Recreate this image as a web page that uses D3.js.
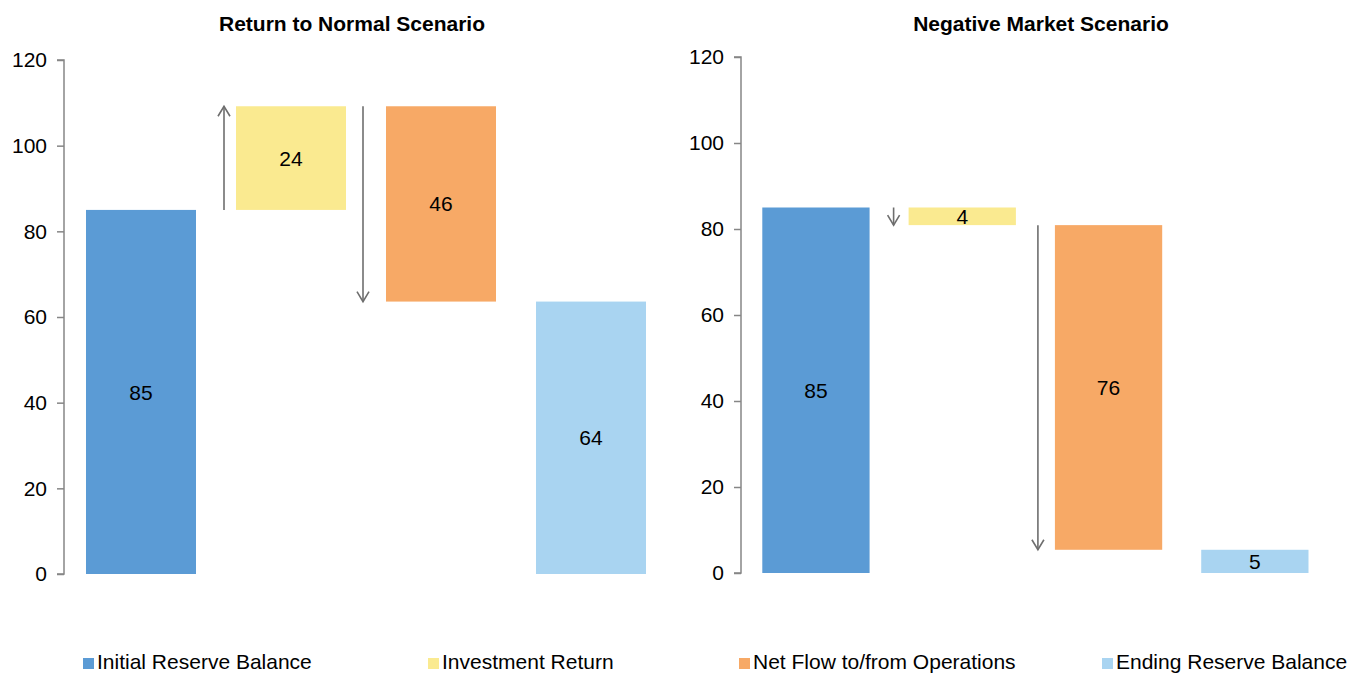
<!DOCTYPE html>
<html>
<head>
<meta charset="utf-8">
<script src="https://cdn.jsdelivr.net/npm/d3@7/dist/d3.min.js"></script>
<style>
  html, body { margin: 0; padding: 0; background: #fff; }
  svg { display: block; font-family: "Liberation Sans", Arial, sans-serif; }
</style>
</head>
<body>
<svg id="chart" width="1351" height="673"></svg>
<script>
// Waterfall steps shared by both scenarios
const categories = [
  "Initial Reserve Balance",
  "Investment Return",
  "Net Flow to/from Operations",
  "Ending Reserve Balance"
];
const scenarioTitles = ["Return to Normal Scenario", "Negative Market Scenario"];
// first and last entries are balances, middle entries are changes
const normalValues = [85.0, 24.2, -45.6, 63.6];
const negativeValues = [85.0, -4.1, -75.5, 5.4];
const tickValues = [0, 20, 40, 60, 80, 100, 120];

const colors = ["#5B9BD5", "#FAEA90", "#F7A966", "#A9D4F1"];

const svg = d3.select("#chart");

// panel geometry
const panels = [
  { title: scenarioTitles[0], values: normalValues, axisX: 64, yRange: [574, 60],
    xRange: [66, 666], titleX: 352, arrowInset: [12, 23] },
  { title: scenarioTitles[1], values: negativeValues, axisX: 741, yRange: [573, 57],
    xRange: [742.8, 1328], titleX: 1041, arrowInset: [15, 17] }
];

panels.forEach(p => {
  const g = svg.append("g");

  const y = d3.scaleLinear().domain([0, 120]).range(p.yRange);
  const x = d3.scaleBand().domain(categories).range(p.xRange)
    .paddingInner(0.2667).paddingOuter(0.1333);

  // running totals -> bar extents
  let running = 0;
  const bars = p.values.map((v, i) => {
    let lo, hi, from, to;
    if (i === 0 || i === p.values.length - 1) {
      lo = 0; hi = v; from = 0; to = v; running = v;
    } else {
      from = running; to = running + v; running = to;
      lo = Math.min(from, to); hi = Math.max(from, to);
    }
    return { cat: categories[i], value: v, lo, hi, from, to, i };
  });

  // title
  g.append("text")
    .attr("x", p.titleX).attr("y", 31)
    .attr("text-anchor", "middle")
    .attr("font-size", 21).attr("font-weight", "bold")
    .attr("fill", "#000")
    .text(p.title);

  // y axis
  const axis = g.append("g")
    .attr("transform", `translate(${p.axisX},0)`)
    .call(d3.axisLeft(y).tickValues(tickValues).tickSize(7).tickPadding(10)
      .tickFormat(d3.format("d")));
  axis.select(".domain").attr("stroke", "#868686").attr("stroke-width", 1.5)
    .attr("d", `M-7,${y(120)}H0V${y(0)}H-7`);
  axis.selectAll(".tick line").attr("stroke", "#868686").attr("stroke-width", 1.5);
  axis.selectAll(".tick text").attr("font-size", 21).attr("fill", "#000")
    .attr("font-family", "Liberation Sans, Arial, sans-serif");

  // bars
  g.selectAll("rect.bar").data(bars).join("rect")
    .attr("class", "bar")
    .attr("x", d => x(d.cat))
    .attr("width", x.bandwidth())
    .attr("y", d => y(d.hi))
    .attr("height", d => y(d.lo) - y(d.hi))
    .attr("fill", (d, i) => colors[i]);

  // value labels
  g.selectAll("text.val").data(bars).join("text")
    .attr("class", "val")
    .attr("x", d => x(d.cat) + x.bandwidth() / 2)
    .attr("y", d => (y(d.lo) + y(d.hi)) / 2)
    .attr("dy", "0.36em")
    .attr("text-anchor", "middle")
    .attr("font-size", 21).attr("fill", "#000")
    .text(d => d3.format(".0f")(Math.abs(d.value)));

  // direction arrows for the change steps
  const steps = bars.filter(d => d.i > 0 && d.i < bars.length - 1);
  steps.forEach((d, k) => {
    const ax = x(d.cat) - p.arrowInset[k];
    const y0 = y(d.from), y1 = y(d.to);
    const dir = y1 < y0 ? 1 : -1; // 1: arrow points up
    const ag = g.append("g").attr("fill", "none")
      .attr("stroke", "#6E6E6E").attr("stroke-width", 1.6);
    ag.append("line").attr("x1", ax).attr("x2", ax).attr("y1", y0).attr("y2", y1);
    ag.append("path")
      .attr("d", `M${ax - 6},${y1 + dir * 10}L${ax},${y1}L${ax + 6},${y1 + dir * 10}`);
  });
});

// legend
const legendX = [83, 428, 739, 1102];
const legend = svg.append("g");
categories.forEach((c, i) => {
  legend.append("rect")
    .attr("x", legendX[i]).attr("y", 658)
    .attr("width", 11).attr("height", 11)
    .attr("fill", colors[i]);
  legend.append("text")
    .attr("x", legendX[i] + 14).attr("y", 669)
    .attr("font-size", 21).attr("fill", "#000")
    .text(c);
});
</script>
</body>
</html>
